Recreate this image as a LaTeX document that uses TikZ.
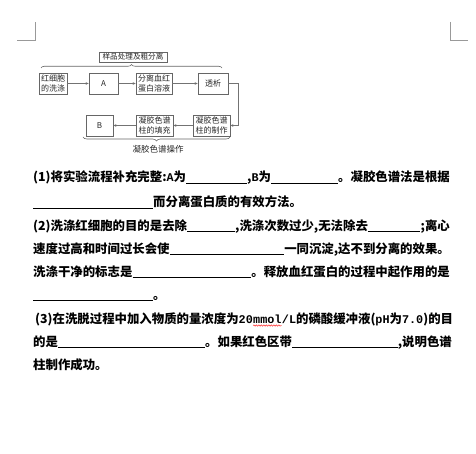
\documentclass[tikz,border=0pt]{standalone}
\usepackage{fontspec}
\setmainfont{Noto Sans CJK SC}
\newfontfamily\mono{Liberation Mono}
\newcommand\lat[1]{{\mono\fontsize{11.8}{14}\selectfont #1}}
\usetikzlibrary{arrows.meta,decorations.pathreplacing,decorations.pathmorphing}
\tikzset{
  seg/.style={inner sep=0pt, anchor=base west, font=\fontsize{12.4}{14}\selectfont\bfseries},
  segE/.style={seg, anchor=base east},
  blank/.style={line width=0.7pt},
  box/.style={draw=black!60, line width=0.7pt, minimum height=21pt, inner sep=0pt,
    font=\fontsize{8}{9.2}\selectfont, align=center, text=black!85},
  flow/.style={draw=black!55, line width=0.7pt, -{Stealth[length=3pt,width=2.6pt,fill=black!80]}},
  brc/.style={draw=black!60, line width=0.6pt, decorate},
  crop/.style={draw=black!40, line width=0.5pt}
}
\begin{document}
\begin{tikzpicture}[x=1pt,y=-1pt]
\useasboundingbox (0,0) rectangle (476,454);
% crop marks
\draw[crop] (17,40.5) -- (35,40.5) -- (35,22);
\draw[crop] (450,22) -- (450,40.5) -- (468,40.5);
% diagram
\node[draw=black!60, line width=0.6pt, minimum width=68pt, minimum height=10pt, inner sep=0pt,
  font=\fontsize{7.6}{8}\selectfont, text=black!85] (title) at (133,57) {样品处理及粗分离};
\draw[brc, decoration={brace, amplitude=3.5pt}] (41,68) -- (222,68);
\node[box, minimum width=28pt] (wash) at (53,83.5) {红细胞\\的洗涤};
\node[box, minimum width=29pt] (A) at (103.5,83.5) {A};
\node[box, minimum width=36pt] (sep) at (154,83.5) {分离血红\\蛋白溶液};
\node[box, minimum width=30pt] (dia) at (213,83.5) {透析};
\node[box, minimum width=37pt] (make) at (211.5,125.5) {凝胶色谱\\柱的制作};
\node[box, minimum width=37pt] (fill) at (154.5,125.5) {凝胶色谱\\柱的填充};
\node[box, minimum width=27pt] (B) at (99.5,125.5) {B};
\draw[flow] (wash) -- (A);
\draw[flow] (A) -- (sep);
\draw[flow] (sep) -- (dia);
\coordinate (turn) at (238,83.5);
\draw[flow] (dia.east) -- (turn) |- (make.east);
\draw[flow] (make) -- (fill);
\draw[flow] (fill) -- (B);
\draw[brc, decoration={brace, amplitude=4pt}] (230,137) -- (83,137);
\node[inner sep=0pt, font=\fontsize{8.5}{9}\selectfont, text=black!85] (ops) at (158,149) {凝胶色谱操作};
% line 1
\node[seg] (l1a) at (33,182) {(1)将实验流程补充完整:\lat{A}为};
\node[seg] (l1b) at (247,182) {,\lat{B}为};
\node[segE] (l1c) at (450,182) {。凝胶色谱法是根据};
\draw[blank] ([yshift=-1pt]l1a.base east) -- ([yshift=-1pt]l1b.base west);
\draw[blank] ([yshift=-1pt]l1b.base east) -- ([yshift=-1pt]l1c.base west);
% line 2
\coordinate (l2s) at (33,207);
\node[seg] (l2a) at (153,207) {而分离蛋白质的有效方法。};
\draw[blank] ([yshift=-1pt]l2s) -- ([yshift=-1pt]l2a.base west);
% line 3
\node[seg] (l3a) at (33,230) {(2)洗涤红细胞的目的是去除};
\node[seg] (l3b) at (235,230) {,洗涤次数过少,无法除去};
\node[segE] (l3c) at (450,230) {;离心};
\draw[blank] ([yshift=-1pt]l3a.base east) -- ([yshift=-1pt]l3b.base west);
\draw[blank] ([yshift=-1pt]l3b.base east) -- ([yshift=-1pt]l3c.base west);
% line 4
\node[seg] (l4a) at (33,253) {速度过高和时间过长会使};
\node[segE] (l4b) at (450,253) {一同沉淀,达不到分离的效果。};
\draw[blank] ([yshift=-1pt]l4a.base east) -- ([yshift=-1pt]l4b.base west);
% line 5
\node[seg] (l5a) at (33,276) {洗涤干净的标志是};
\node[segE] (l5b) at (450,276) {。释放血红蛋白的过程中起作用的是};
\draw[blank] ([yshift=-1pt]l5a.base east) -- ([yshift=-1pt]l5b.base west);
% line 6
\coordinate (l6s) at (33,299);
\node[seg] (l6a) at (153,299) {。};
\draw[blank] ([yshift=-1pt]l6s) -- ([yshift=-1pt]l6a.base west);
% line 7
\node[seg] (l7a) at (35,323) {(3)在洗脱过程中加入物质的量浓度为\lat{20 }};
\node[seg] (l7b) at (l7a.base east) {\lat{mmol}};
\node[seg] (l7c) at (l7b.base east) {\lat{/L}的磷酸缓冲液(\lat{pH}为\lat{7.0})的目};
\draw[red, line width=0.4pt, decorate, decoration={snake, amplitude=0.7pt, segment length=2.5pt}]
  ([yshift=-2.5pt]l7b.base west) -- ([yshift=-2.5pt]l7b.base east);
% line 8
\node[seg] (l8a) at (33,346) {的是};
\node[seg] (l8b) at (205,346) {。如果红色区带};
\node[segE] (l8c) at (452,346) {,说明色谱};
\draw[blank] ([yshift=-1pt]l8a.base east) -- ([yshift=-1pt]l8b.base west);
\draw[blank] ([yshift=-1pt]l8b.base east) -- ([yshift=-1pt]l8c.base west);
% line 9
\node[seg] (l9a) at (33,369) {柱制作成功。};
\end{tikzpicture}
\end{document}
